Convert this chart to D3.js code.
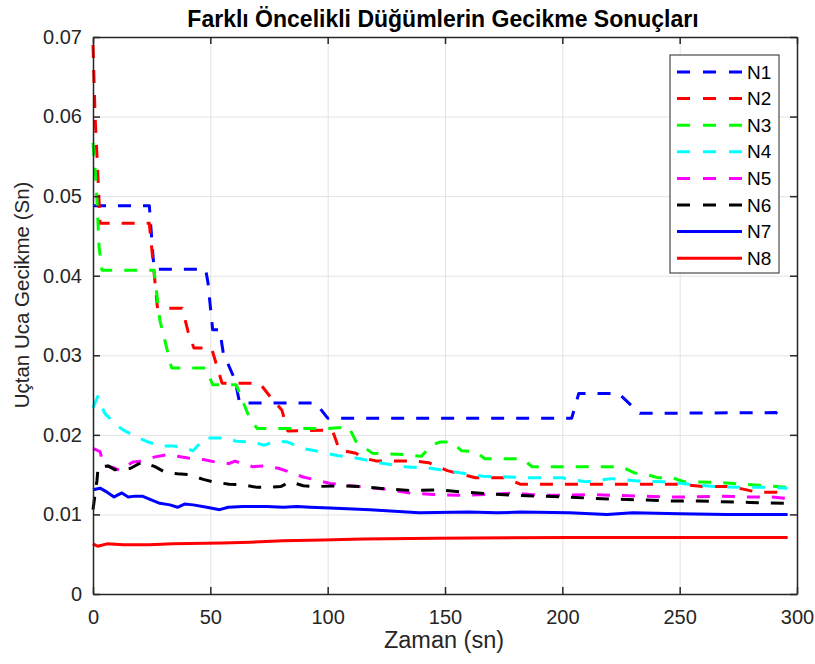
<!DOCTYPE html>
<html lang="tr">
<head>
    <meta charset="utf-8">
    <title>Gecikme Sonuçları</title>
    <script src="https://cdnjs.cloudflare.com/ajax/libs/d3/7.8.5/d3.min.js"></script>
    <style>
        body { margin: 0; background: #fff; }
        svg { font-family: "Liberation Sans", Arial, Helvetica, sans-serif; }
        .tick text { fill: #262626; }
    </style>
</head>
<body>
    <script>
    // data: [time (sn), delay (Sn)]
    var names = ["N1", "N2", "N3", "N4", "N5", "N6", "N7", "N8"];
    var colors = ["#0000ff", "#ff0000", "#00ff00", "#00ffff", "#ff00ff", "#000000", "#0000ff", "#ff0000"];
    var dashed = [true, true, true, true, true, true, false, false];

    var n1 = [[0,0.0488],[24,0.0488],[26,0.0408],[48,0.0408],[49,0.0391],[51,0.0332],[54,0.0332],[55.5,0.0303],[60.5,0.0269],[62.5,0.0240],[95,0.0240],[100,0.0221],[204,0.0221],[207,0.0252],[224,0.0252],[233,0.0227],[291,0.0228],[296,0.0219]];
    var n2 = [[0,0.069],[0.9,0.060],[2.5,0.050],[3,0.0466],[24,0.0466],[27.5,0.0359],[38,0.0359],[40.5,0.033],[43,0.0309],[50.5,0.0309],[55,0.0265],[71,0.0265],[75.5,0.0248],[80.5,0.0231],[83,0.0205],[102,0.0206],[105,0.0181],[112,0.0177],[115,0.0171],[121,0.0167],[138,0.0167],[143,0.0165],[151,0.0155],[163,0.0146],[176,0.0146],[182,0.0138],[249,0.0138],[260,0.0135],[272,0.0135],[283,0.0128],[296,0.0128]];
    var n3 = [[0,0.0567],[1,0.053],[1.7,0.0495],[2.6,0.0436],[3.8,0.0407],[26,0.0407],[28.5,0.0344],[33.5,0.0284],[48,0.0284],[51,0.0263],[61,0.0263],[67,0.0219],[70,0.0208],[100,0.0208],[109,0.021],[112,0.0192],[119,0.0177],[134,0.0175],[140,0.0173],[144,0.0187],[148,0.0191],[153,0.0191],[157,0.018],[163,0.0179],[167,0.0170],[183,0.0170],[187,0.016],[225,0.016],[231,0.0152],[236,0.015],[241,0.0146],[247,0.0146],[252,0.0141],[268,0.014],[296,0.0134]];
    var n4 = [[0,0.0234],[2,0.0248],[5,0.0227],[10,0.0212],[13,0.0206],[18,0.0198],[23.5,0.0191],[29,0.0186],[34,0.0186],[38,0.0185],[42.6,0.018],[47.7,0.0196],[57,0.0196],[61,0.0192],[68,0.0191],[73,0.0187],[78,0.0192],[83,0.0191],[89,0.0183],[93,0.0181],[98,0.0178],[104,0.0174],[112,0.0171],[122,0.0165],[133,0.016],[144,0.0158],[155,0.0153],[166,0.0148],[177,0.0147],[188,0.0146],[200,0.0146],[210,0.0141],[221,0.0145],[232,0.0142],[243,0.0141],[254,0.0138],[265,0.0135],[276,0.0134],[287,0.0134],[296,0.0133]];
    var n5 = [[0,0.0183],[3,0.0179],[4.5,0.0162],[9.4,0.0158],[11.5,0.0155],[17,0.0166],[21,0.0167],[26,0.0172],[31.5,0.0175],[36,0.0173],[40.5,0.0171],[47,0.0169],[52,0.0166],[58,0.0164],[60.5,0.0167],[63.5,0.0164],[68,0.016],[73,0.0161],[79,0.0158],[84,0.0153],[89.5,0.0147],[94,0.0144],[101,0.0139],[113,0.0135],[124,0.0132],[135,0.0127],[145,0.0125],[157,0.0124],[168,0.0125],[179,0.0127],[190,0.0124],[201,0.0124],[212,0.0125],[222,0.0124],[234,0.0123],[245,0.0122],[256,0.0122],[267,0.0123],[278,0.0122],[289,0.0122],[296,0.012]];
    var n6 = [[0,0.0106],[1.7,0.0143],[2.2,0.016],[6.5,0.0161],[9.4,0.0156],[11.5,0.0157],[16,0.0158],[21,0.0166],[26.4,0.016],[30.7,0.0153],[36,0.0151],[41,0.015],[47,0.0144],[51,0.0141],[58,0.0138],[64,0.0137],[70,0.0134],[75,0.0134],[80,0.0135],[84,0.0141],[89.6,0.0136],[95,0.0135],[104,0.0136],[114,0.0135],[125,0.0132],[136,0.013],[147,0.0131],[158,0.0128],[169,0.0126],[180,0.0124],[191,0.0123],[202,0.0122],[214,0.012],[224,0.0119],[236,0.0118],[246,0.0117],[258,0.0117],[268,0.0116],[280,0.0115],[296,0.0114]];
    var n7 = [[0,0.0131],[3,0.0133],[6,0.0128],[9,0.0122],[12.3,0.0127],[15,0.0122],[18,0.0123],[21,0.0123],[24.3,0.0119],[28.5,0.0114],[32.8,0.0112],[36,0.0109],[39,0.0113],[42.7,0.0112],[48.5,0.0109],[54,0.0106],[57.6,0.0109],[64,0.011],[74,0.011],[81,0.0109],[87,0.011],[92.5,0.0109],[101,0.0108],[118,0.0106],[139,0.0102],[160,0.0103],[172,0.0102],[182,0.0103],[203,0.0102],[219,0.01],[230,0.0102],[250,0.0101],[270,0.01],[296,0.01]];
    var n8 = [[0,0.0063],[2,0.006],[6,0.0063],[13,0.0062],[24,0.0062],[34,0.0063],[55,0.0064],[67,0.0065],[81,0.0067],[98,0.0068],[115,0.0069],[146,0.007],[203,0.0071],[296,0.0071]];
    var series = [n1, n2, n3, n4, n5, n6, n7, n8];

    var xTicks = [0, 50, 100, 150, 200, 250, 300];
    var yTicks = [0, 0.01, 0.02, 0.03, 0.04, 0.05, 0.06, 0.07];

    // plot box
    var margin = {top: 37, right: 18, bottom: 70, left: 93},
        width = 815 - margin.left - margin.right,
        height = 664 - margin.top - margin.bottom;

    var x = d3.scaleLinear().domain([0, 300]).range([0, width]);
    var y = d3.scaleLinear().domain([0, 0.07]).range([height, 0]);

    var svg = d3.select("body").append("svg")
        .attr("width", 815)
        .attr("height", 664);
    var g = svg.append("g")
        .attr("transform", "translate(" + margin.left + "," + margin.top + ")");

    // grid
    g.append("g")
        .attr("transform", "translate(0," + height + ")")
        .call(d3.axisBottom(x).tickValues(xTicks).tickSize(-height).tickFormat(""))
        .call(function(s) { s.select(".domain").remove(); s.selectAll("line").attr("stroke", "#e3e3e3"); });
    g.append("g")
        .call(d3.axisLeft(y).tickValues(yTicks).tickSize(-width).tickFormat(""))
        .call(function(s) { s.select(".domain").remove(); s.selectAll("line").attr("stroke", "#e3e3e3"); });

    // lines
    var line = d3.line()
        .x(function(d) { return x(d[0]); })
        .y(function(d) { return y(d[1]); });

    series.forEach(function(s, i) {
        g.append("path")
            .datum(s)
            .attr("fill", "none")
            .attr("stroke", colors[i])
            .attr("stroke-width", 3)
            .attr("stroke-linejoin", "round")
            .attr("stroke-dasharray", dashed[i] ? "13,12" : null)
            .attr("d", line);
    });

    // axes, ticks pointing in
    var axisStyle = function(s) {
        s.select(".domain").attr("stroke", "#262626").attr("stroke-width", 1.5);
        s.selectAll(".tick line").attr("stroke", "#262626").attr("stroke-width", 1.5);
        s.selectAll(".tick text").attr("font-size", 20).attr("font-family", null);
    };
    g.append("g")
        .attr("transform", "translate(0," + height + ")")
        .call(d3.axisBottom(x).tickValues(xTicks).tickSize(-7).tickSizeOuter(0).tickPadding(16))
        .call(axisStyle);
    g.append("g")
        .call(d3.axisLeft(y).tickValues(yTicks).tickSize(-7).tickSizeOuter(0).tickPadding(11)
            .tickFormat(function(d) { return d === 0 ? "0" : d3.format(".2f")(d); }))
        .call(axisStyle);
    g.append("g")
        .call(d3.axisTop(x).tickValues(xTicks).tickSize(-7).tickSizeOuter(0).tickFormat(""))
        .call(axisStyle);
    g.append("g")
        .attr("transform", "translate(" + width + ",0)")
        .call(d3.axisRight(y).tickValues(yTicks).tickSize(-7).tickSizeOuter(0).tickFormat(""))
        .call(axisStyle);

    // title and labels
    svg.append("text")
        .attr("x", 443)
        .attr("y", 27)
        .attr("text-anchor", "middle")
        .attr("font-size", 23)
        .attr("font-weight", "bold")
        .attr("fill", "#000")
        .text("Farklı Öncelikli Düğümlerin Gecikme Sonuçları");

    svg.append("text")
        .attr("x", 444)
        .attr("y", 648)
        .attr("text-anchor", "middle")
        .attr("font-size", 23.5)
        .attr("fill", "#262626")
        .text("Zaman (sn)");

    svg.append("text")
        .attr("transform", "translate(29,295) rotate(-90)")
        .attr("text-anchor", "middle")
        .attr("font-size", 20.5)
        .attr("fill", "#262626")
        .text("Uçtan Uca Gecikme (Sn)");

    // legend
    var legend = svg.append("g").attr("transform", "translate(670,55)");
    legend.append("rect")
        .attr("width", 109)
        .attr("height", 218)
        .attr("fill", "#fff")
        .attr("stroke", "#262626")
        .attr("stroke-width", 1);
    var items = legend.selectAll(".item")
        .data(names)
        .enter().append("g")
        .attr("class", "item")
        .attr("transform", function(d, i) { return "translate(0," + (17 + i * 26.6) + ")"; });
    items.append("line")
        .attr("x1", 7).attr("x2", 72)
        .attr("stroke", function(d, i) { return colors[i]; })
        .attr("stroke-width", 3)
        .attr("stroke-dasharray", function(d, i) { return dashed[i] ? "13,13" : null; });
    items.append("text")
        .attr("x", 77)
        .attr("dy", "0.35em")
        .attr("font-size", 19)
        .attr("fill", "#000")
        .text(function(d) { return d; });
    </script>
</body>
</html>
